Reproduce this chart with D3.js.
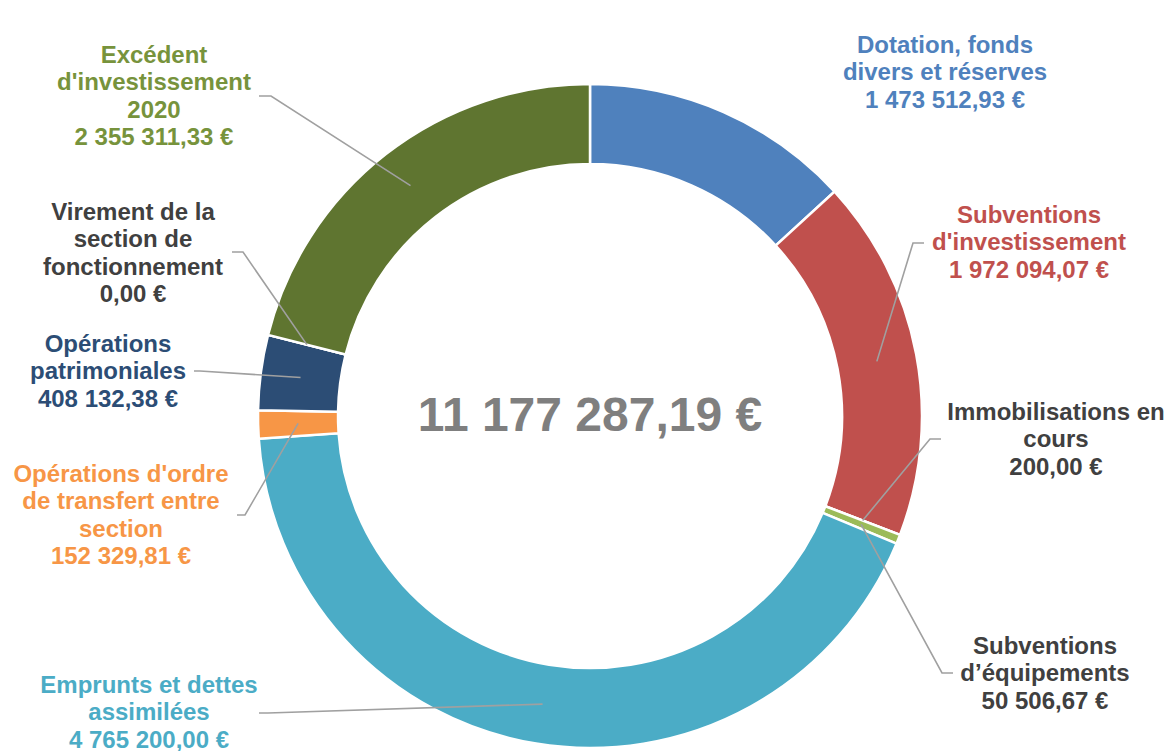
<!DOCTYPE html>
<html>
<head>
<meta charset="utf-8">
<script src="https://cdn.jsdelivr.net/npm/d3@7"></script>
<style>
  html, body { margin: 0; padding: 0; background: #fff; }
  svg { display: block; font-family: "Liberation Sans", Arial, sans-serif; font-weight: bold; }
</style>
</head>
<body>
<svg width="1171" height="751"></svg>
<script>
// Données
const categories = [
  "Dotation, fonds divers et réserves",
  "Subventions d'investissement",
  "Immobilisations en cours",
  "Subventions d’équipements",
  "Emprunts et dettes assimilées",
  "Opérations d'ordre de transfert entre section",
  "Opérations patrimoniales",
  "Virement de la section de fonctionnement",
  "Excédent d'investissement 2020"
];
const values = [1473512.93, 1972094.07, 200.00, 50506.67, 4765200.00, 152329.81, 408132.38, 0.00, 2355311.33];
const labelLines = [
  ["Dotation, fonds", "divers et réserves"],
  ["Subventions", "d'investissement"],
  ["Immobilisations en", "cours"],
  ["Subventions", "d’équipements"],
  ["Emprunts et dettes", "assimilées"],
  ["Opérations d'ordre", "de transfert entre", "section"],
  ["Opérations", "patrimoniales"],
  ["Virement de la", "section de", "fonctionnement"],
  ["Excédent", "d'investissement", "2020"]
];

// Couleurs
const sliceColors = ["#4F81BD", "#C0504D", "#8064A2", "#9BBB59", "#4BACC6", "#F79646", "#2C4D75", "#772C2A", "#5F7530"];
const textColors  = ["#4F81BD", "#C0504D", "#404040", "#404040", "#4BACC6", "#F79646", "#2C4D75", "#404040", "#77933C"];

// Placement des étiquettes (x centre, y première ligne, coude et fin du trait)
const labelLayout = [
  { x: 945,  y: 53,  leader: null },
  { x: 1029, y: 223, leader: [[913, 243], [924, 243]] },
  { x: 1056, y: 420, leader: [[930, 439], [941, 439]] },
  { x: 1045, y: 654, leader: [[942, 673], [953, 673]] },
  { x: 149,  y: 693, leader: [[268, 713], [259, 713]] },
  { x: 121,  y: 482, leader: [[245, 515], [237, 515]] },
  { x: 108,  y: 352, leader: [[200, 371], [194, 371]] },
  { x: 133,  y: 220, leader: [[243, 252], [232, 252]] },
  { x: 154,  y: 63,  leader: [[271, 96], [259, 96]] }
];

const fr = d3.formatLocale({ decimal: ",", thousands: " ", grouping: [3], currency: ["", " €"] });
const fmt = v => fr.format(",.2f")(v) + " €";

const svg = d3.select("svg");
const cx = 590, cy = 416, outerR = 332, innerR = 252, lineH = 27.3;

const data = categories.map((c, i) => ({ name: c, value: values[i], i }));
const total = d3.sum(values);

const pie = d3.pie().value(d => d.value).sort(null);
const arc = d3.arc().innerRadius(innerR).outerRadius(outerR);
const midArc = d3.arc().innerRadius((innerR + outerR) / 2).outerRadius((innerR + outerR) / 2);

const chart = svg.append("g").attr("transform", `translate(${cx},${cy})`);
const arcs = pie(data);

chart.selectAll("path.slice")
  .data(arcs)
  .enter().append("path")
  .attr("class", "slice")
  .attr("d", arc)
  .attr("fill", d => sliceColors[d.data.i])
  .attr("stroke", "#fff")
  .attr("stroke-width", 2.5);

// Traits de rappel
arcs.forEach(d => {
  const lay = labelLayout[d.data.i];
  if (!lay.leader) return;
  const c = midArc.centroid(d);
  const pts = [[cx + c[0], cy + c[1]], ...lay.leader];
  svg.append("polyline")
    .attr("points", pts.map(p => p.join(",")).join(" "))
    .attr("fill", "none")
    .attr("stroke", "#A0A0A0")
    .attr("stroke-width", 1.6);
});

// Étiquettes
data.forEach(d => {
  const lay = labelLayout[d.i];
  const lines = [...labelLines[d.i], fmt(d.value)];
  const t = svg.append("text")
    .attr("text-anchor", "middle")
    .attr("fill", textColors[d.i])
    .style("font-size", "24px");
  lines.forEach((l, k) => {
    t.append("tspan").attr("x", lay.x).attr("y", lay.y + k * lineH).text(l);
  });
});

// Total au centre
svg.append("text")
  .attr("x", cx)
  .attr("y", 431)
  .attr("text-anchor", "middle")
  .attr("fill", "#7F7F7F")
  .style("font-size", "48px")
  .text(fmt(total));
</script>
</body>
</html>
